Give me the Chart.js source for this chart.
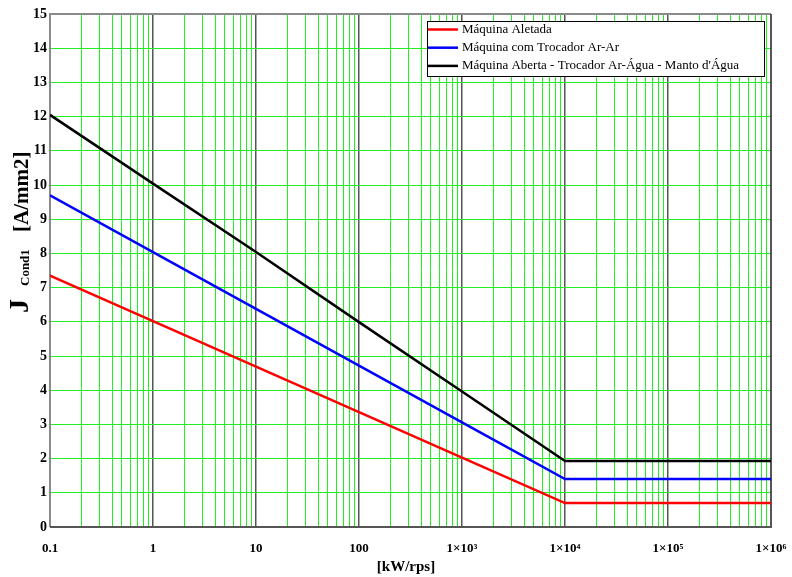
<!DOCTYPE html>
<html>
<head>
<meta charset="utf-8">
<script src="https://cdn.jsdelivr.net/npm/chart.js@4/dist/chart.umd.min.js"></script>
<style>
    body { margin: 0; background: #fff; }
    canvas { display: block; background: #fff; }
</style>
</head>
<body>
<canvas id="jChart" width="792" height="577"></canvas>
<script>
// Chart data
const xValues = [0.1, 1, 10, 100, 1000, 10000, 1000000];
const aletada = [7.35, 6.02, 4.69, 3.36, 2.03, 0.70, 0.70];
const trocadorArAr = [9.70, 8.04, 6.38, 4.72, 3.06, 1.40, 1.40];
const abertaArAgua = [12.05, 10.04, 8.04, 5.99, 3.96, 1.93, 1.93];

const seriesLabels = [
    'Máquina Aletada',
    'Máquina com Trocador Ar-Ar',
    "Máquina Aberta - Trocador Ar-Água - Manto d'Água"
];

// Axis ticks
const decades = [0.1, 1, 10, 100, 1000, 10000, 100000, 1000000];
const xTickLabels = ['0.1', '1', '10', '100', '1×10³', '1×10⁴', '1×10⁵', '1×10⁶'];
const yMin = 0;
const yMax = 15;

const SERIF = '"Liberation Serif", "DejaVu Serif", serif';

function toPoints(values) {
    return values.map((y, i) => ({ x: xValues[i], y: y }));
}

function isDecade(v) {
    return decades.some(d => Math.abs(d - v) / d < 1e-9);
}

// grid positions: 1..9 inside each decade
function logTickValues() {
    const vals = [];
    for (let i = 0; i < decades.length - 1; i++) {
        for (let m = 1; m <= 9; m++) {
            vals.push(Number((decades[i] * m).toPrecision(6)));
        }
    }
    vals.push(decades[decades.length - 1]);
    return vals;
}

// gray frame round the plot area
const frame = {
    id: 'frame',
    beforeDatasetsDraw(chart) {
        const { ctx, chartArea: a } = chart;
        ctx.save();
        ctx.strokeStyle = '#8a8a8a';
        ctx.lineWidth = 2;
        ctx.beginPath();
        ctx.moveTo(a.left, a.bottom);
        ctx.lineTo(a.left, a.top);
        ctx.lineTo(a.right, a.top);
        ctx.stroke();
        ctx.strokeStyle = '#555555';
        ctx.beginPath();
        ctx.moveTo(a.right, a.top);
        ctx.lineTo(a.right, a.bottom);
        ctx.lineTo(a.left, a.bottom);
        ctx.stroke();
        ctx.restore();
    }
};

// Custom legend box + axis titles
const decorations = {
    id: 'decorations',
    afterDraw(chart) {
        const ctx = chart.ctx;
        ctx.save();

        // legend
        const bx = 427, by = 21, bw = 337, bh = 55;
        ctx.fillStyle = '#fff';
        ctx.fillRect(bx, by, bw, bh);
        ctx.strokeStyle = '#000';
        ctx.lineWidth = 1;
        ctx.strokeRect(bx + 0.5, by + 0.5, bw, bh);
        ctx.font = '13px ' + SERIF;
        ctx.textBaseline = 'middle';
        chart.data.datasets.forEach((ds, i) => {
            const ly = 29.5 + i * 18.2;
            ctx.strokeStyle = ds.borderColor;
            ctx.lineWidth = 2.5;
            ctx.beginPath();
            ctx.moveTo(bx + 1, ly);
            ctx.lineTo(bx + 31, ly);
            ctx.stroke();
            ctx.fillStyle = '#000';
            ctx.fillText(ds.label, bx + 35, ly);
        });

        // y title: J_Cond1 [A/mm2]
        ctx.fillStyle = '#000';
        ctx.textBaseline = 'alphabetic';
        ctx.translate(28, 313);
        ctx.rotate(-Math.PI / 2);
        ctx.font = 'bold 28px ' + SERIF;
        ctx.fillText('J', 0, 0);
        ctx.font = 'bold 13px ' + SERIF;
        ctx.fillText('Cond1', 27, 1);
        ctx.font = 'bold 21px ' + SERIF;
        ctx.fillText('[A/mm2]', 81, 0);
        ctx.setTransform(1, 0, 0, 1, 0, 0);

        // x title
        ctx.font = 'bold 15px ' + SERIF;
        ctx.textAlign = 'center';
        ctx.fillText('[kW/rps]', 406, 571);
        ctx.restore();
    }
};

const colors = ['#ff0000', '#0000ff', '#000000'];
const seriesData = [aletada, trocadorArAr, abertaArAgua];

new Chart(document.getElementById('jChart').getContext('2d'), {
    type: 'line',
    data: {
        datasets: seriesData.map((vals, i) => ({
            label: seriesLabels[i],
            data: toPoints(vals),
            borderColor: colors[i],
            borderWidth: 2.5,
            pointRadius: 0,
            tension: 0,
            fill: false
        }))
    },
    options: {
        responsive: false,
        animation: false,
        layout: { padding: { top: 14, right: 21, left: 0, bottom: 0 } },
        plugins: {
            legend: { display: false },
            tooltip: { enabled: false }
        },
        scales: {
            x: {
                type: 'logarithmic',
                min: decades[0],
                max: decades[decades.length - 1],
                afterBuildTicks: (scale) => {
                    scale.ticks = logTickValues().map(v => ({ value: v, major: isDecade(v) }));
                },
                afterFit: (scale) => {
                    scale.height = 50;
                    scale.paddingRight = 0;
                    scale.paddingLeft = 0;
                },
                grid: {
                    drawTicks: false,
                    color: (ctx) => (ctx.tick && isDecade(ctx.tick.value)) ? '#555555' : '#22ee22',
                    lineWidth: (ctx) => (ctx.tick && isDecade(ctx.tick.value)) ? 1.5 : 1
                },
                border: { display: false },
                ticks: {
                    autoSkip: false,
                    maxRotation: 0,
                    padding: 14,
                    color: '#000',
                    font: { family: SERIF, size: 13, weight: 'bold' },
                    callback: (value) => {
                        const i = decades.findIndex(d => Math.abs(d - value) / d < 1e-9);
                        return i >= 0 ? xTickLabels[i] : '';
                    }
                }
            },
            y: {
                min: yMin,
                max: yMax,
                afterFit: (scale) => { scale.width = 50; },
                grid: {
                    drawTicks: false,
                    color: '#22ee22',
                    lineWidth: 1
                },
                border: { display: false },
                ticks: {
                    stepSize: 1,
                    padding: 3,
                    color: '#000',
                    font: { family: SERIF, size: 14, weight: 'bold' }
                }
            }
        }
    },
    plugins: [frame, decorations]
});
</script>
</body>
</html>
